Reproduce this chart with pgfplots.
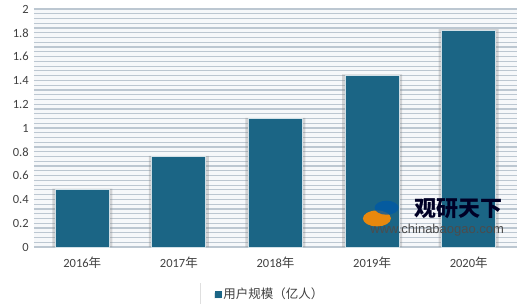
\documentclass[border=0pt]{standalone}
\usepackage{pgfplots}
\pgfplotsset{compat=1.18}
\usetikzlibrary{shadows}
\usepackage{fontspec}
\setmainfont{Carlito}
\newfontfamily\cjk{Noto Sans CJK SC}
\newfontfamily\wsans{Liberation Sans}
\definecolor{barblue}{HTML}{1B6585}
\definecolor{gridc}{HTML}{BCC7D1}
\definecolor{plotbg}{HTML}{F6F8FA}
\definecolor{ticktext}{HTML}{404040}

\begin{document}
\begin{tikzpicture}
\fontsize{12.5pt}{15pt}\selectfont
\path[use as bounding box] (-34pt,-56pt) rectangle (486pt,247pt);
% plot area background (drawn first so the stripes stay visible)
\fill[plotbg] (0pt,0pt) rectangle (483pt,238pt);
\begin{axis}[
  scale only axis,
  width=483pt, height=238pt,
  xmin=-0.5, xmax=4.5,
  ymin=0, ymax=2,
  xtick=data,
  xticklabels={2016{\cjk 年},2017{\cjk 年},2018{\cjk 年},2019{\cjk 年},2020{\cjk 年}},
  ytick={0,0.2,...,2.01},
  yticklabels={0,0.2,0.4,0.6,0.8,1,1.2,1.4,1.6,1.8,2},
  minor ytick={0.04,0.08,...,2.0},
  ymajorgrids=true, yminorgrids=true,
  every major grid/.style={draw=gridc, line width=1.2pt},
  every minor grid/.style={draw=gridc, line width=1.2pt},
  axis line style={draw=none},
  xtick style={draw=none}, ytick style={draw=none},
  minor tick style={draw=none},
  tick label style={font=\fontsize{12.5pt}{15pt}\selectfont, text=ticktext},
  yticklabel style={xshift=-1pt},
  xticklabel style={yshift=-6pt},
  /pgf/number format/assume math mode=true,
  legend style={at={(0.489,-0.147)}, anchor=north, draw=none, fill=white,
    font=\cjk\fontsize{12.5pt}{15pt}\selectfont, text=ticktext,
    inner xsep=14pt, inner ysep=4pt,
    drop shadow={shadow xshift=-1pt, shadow yshift=-1pt, opacity=0.25}},
  legend image code/.code={\fill[barblue] (0pt,-2.7pt) rectangle (5.5pt,2.8pt);},
]
% soft shadow behind the bars
\addplot[ybar, bar width=60pt, fill=gray, draw=none, opacity=0.3, forget plot]
  coordinates {(0,0.49) (1,0.765) (2,1.085) (3,1.45) (4,1.83)};
\addplot[ybar, bar width=54pt, fill=barblue, draw=white!80!barblue, line width=0.8pt]
  coordinates {(0,0.48) (1,0.76) (2,1.08) (3,1.44) (4,1.82)};
\addlegendentry{用户规模（亿人）}
% watermark
\fill[orange!90!yellow, opacity=0.9] (axis cs:3.05,0.24) ellipse [x radius=14pt, y radius=8pt];
\fill[teal!70!blue, opacity=0.8] (axis cs:3.15,0.33) ellipse [x radius=12pt, y radius=7pt];
\node[anchor=west, inner sep=0pt, font=\cjk\bfseries\fontsize{22pt}{24pt}\selectfont, text=black!85!blue]
  at (axis cs:3.44,0.32) {观研天下};
\node[anchor=west, inner sep=0pt, font=\wsans\fontsize{13pt}{14pt}\selectfont, text=black!70]
  at (axis cs:2.98,0.14) {www.chinabaogao.com};
\end{axis}
\end{tikzpicture}
\end{document}
